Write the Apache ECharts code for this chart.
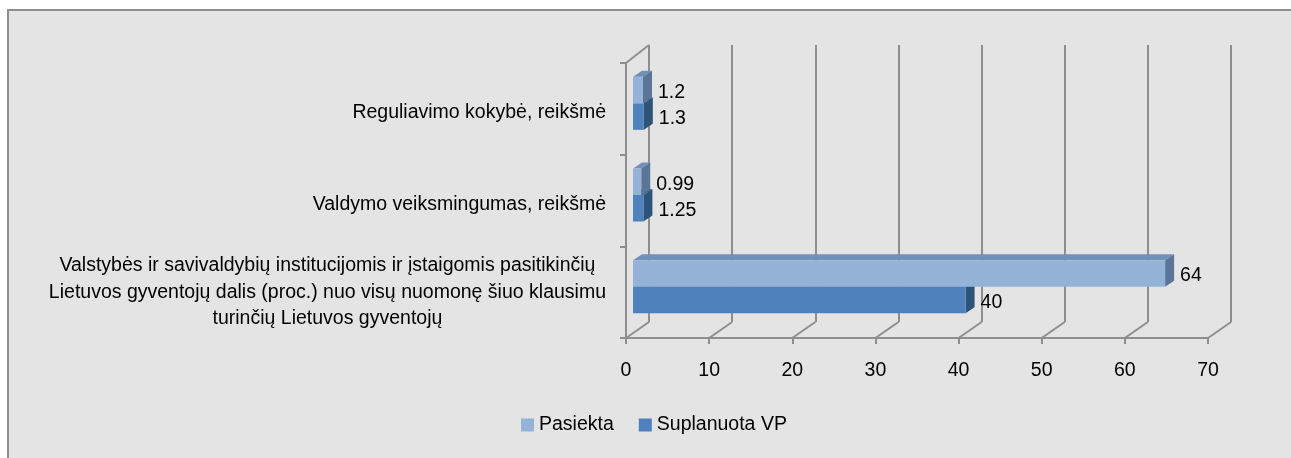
<!DOCTYPE html>
<html>
<head>
<meta charset="utf-8">
<title>Pasiekta ir suplanuota VP</title>
<script src="https://cdn.jsdelivr.net/npm/echarts@6/dist/echarts.min.js"></script>
<style>
  html, body { margin: 0; padding: 0; background: #fff; }
  #box {
    position: absolute; left: 7px; top: 9px; width: 1284px; height: 449px;
    background: #e4e4e4; border-top: 2px solid #8e8e8e; border-left: 2px solid #8e8e8e;
    box-sizing: border-box;
  }
  #chart { position: absolute; left: 0; top: 0; width: 1291px; height: 458px; }
</style>
</head>
<body>
<div id="box"></div>
<div id="chart"></div>
<script>
// data
const categories = [
  'Reguliavimo kokybė, reikšmė',
  'Valdymo veiksmingumas, reikšmė',
  'Valstybės ir savivaldybių institucijomis ir įstaigomis pasitikinčių\nLietuvos gyventojų dalis (proc.) nuo visų nuomonę šiuo klausimu\nturinčių Lietuvos gyventojų'
]
const pasiekta = [1.2, 0.99, 64]
const suplanuota = [1.3, 1.25, 40]
const xTicks = [0, 10, 20, 30, 40, 50, 60, 70]
const seriesNames = ['Pasiekta', 'Suplanuota VP']

const FONT = "'Liberation Sans Narrow', 'Arial Narrow', 'Liberation Sans', sans-serif"
const FS = 19.5
const LINE = '#8e8e8e'

// front plane and back wall of the fake 3d box
const FRONT = { left: 626, top: 63, width: 582, height: 275 }
const BACK = { left: 649, top: 45, width: 582, height: 277 }

// bar depth and shift into the box
const DX = 9, DY = -6
const SX = 7, SY = -5.5

function barRenderer(front, top, side, slot) {
  return function (params, api) {
    const v = api.value(0)
    const i = api.value(1)
    const a = api.coord([0, i])
    const b = api.coord([v, i])
    const h = api.size([0, 1])[1] * 0.289
    const x0 = a[0] + SX
    const x1 = b[0] + SX
    const y0 = a[1] + SY - h + slot * h
    const y1 = y0 + h
    return {
      type: 'group',
      children: [
        { type: 'polygon', shape: { points: [[x0, y0], [x0 + DX, y0 + DY], [x1 + DX, y0 + DY], [x1, y0]] }, style: { fill: top } },
        { type: 'polygon', shape: { points: [[x1, y0], [x1 + DX, y0 + DY], [x1 + DX, y1 + DY], [x1, y1]] }, style: { fill: side } },
        { type: 'rect', shape: { x: x0, y: y0, width: x1 - x0, height: h }, style: { fill: front } },
        { type: 'text', x: x1 + DX + 6, y: (y0 + y1) / 2 + 2.5,
          style: { text: String(v), fill: '#000', fontSize: FS, fontFamily: FONT, verticalAlign: 'middle', align: 'left' } }
      ]
    }
  }
}

function floorRenderer(params, api) {
  const x = api.coord([api.value(0), 0])[0]
  const yb = FRONT.top + FRONT.height
  const yk = BACK.top + BACK.height
  const kids = [
    { type: 'line', shape: { x1: x, y1: yb, x2: x + (BACK.left - FRONT.left), y2: yk }, style: { stroke: LINE, lineWidth: 2 } }
  ]
  if (params.dataIndex === 0) {
    kids.push({ type: 'line', shape: { x1: FRONT.left, y1: FRONT.top, x2: BACK.left, y2: BACK.top }, style: { stroke: LINE, lineWidth: 2 } })
  }
  return { type: 'group', children: kids }
}

const chart = echarts.init(document.getElementById('chart'))

const option = {
  animation: false,
  textStyle: { fontFamily: FONT },
  legend: {
    data: seriesNames,
    left: 521,
    top: 415,
    padding: 0,
    icon: 'rect',
    itemWidth: 13,
    itemHeight: 13,
    itemGap: 25,
    selectedMode: false,
    textStyle: { fontSize: FS, fontFamily: FONT, color: '#000' }
  },
  grid: [
    Object.assign({ containLabel: false, outerBoundsMode: 'none' }, FRONT),
    Object.assign({ containLabel: false, outerBoundsMode: 'none' }, BACK)
  ],
  xAxis: [
    {
      gridIndex: 0, type: 'value',
      min: xTicks[0], max: xTicks[xTicks.length - 1], interval: xTicks[1] - xTicks[0],
      axisLine: { show: true, lineStyle: { color: LINE, width: 2 } },
      axisTick: { show: true, length: 6, lineStyle: { color: LINE, width: 2 } },
      axisLabel: { fontSize: FS, fontFamily: FONT, color: '#000', margin: 23 },
      splitLine: { show: false }
    },
    {
      gridIndex: 1, type: 'value',
      min: xTicks[0], max: xTicks[xTicks.length - 1], interval: xTicks[1] - xTicks[0],
      axisLine: { show: false }, axisTick: { show: false }, axisLabel: { show: false },
      splitLine: { show: true, lineStyle: { color: LINE, width: 2 } }
    }
  ],
  yAxis: [
    {
      gridIndex: 0, type: 'category', data: categories, inverse: true,
      axisLine: { show: true, lineStyle: { color: LINE, width: 2 } },
      axisTick: { show: true, length: 6, lineStyle: { color: LINE, width: 2 } },
      axisLabel: {
        margin: 20,
        formatter: value => {
          const lines = value.split('\n')
          // single-line labels sit a little lower in the original
          const tag = lines.length > 1 ? 'c' : 's'
          return lines.map(line => '{' + tag + '|' + line + '}').join('\n')
        },
        rich: {
          c: { align: 'center', fontSize: FS, lineHeight: 26.5, fontFamily: FONT, color: '#000' },
          s: { fontSize: FS, lineHeight: 26.5, fontFamily: FONT, color: '#000', padding: [8, 0, 0, 0] }
        }
      },
      splitLine: { show: false }
    },
    { gridIndex: 1, type: 'category', data: categories, inverse: true, show: false }
  ],
  series: [
    {
      type: 'custom', name: 'floor', silent: true, clip: false,
      xAxisIndex: 0, yAxisIndex: 0,
      data: xTicks.map(t => [t, 0]),
      renderItem: floorRenderer
    },
    {
      type: 'custom', name: seriesNames[1], clip: false, z: 3,
      xAxisIndex: 0, yAxisIndex: 0,
      itemStyle: { color: '#4f81bd' },
      encode: { x: 0, y: 1 },
      data: suplanuota.map((v, i) => [v, i]),
      renderItem: barRenderer('#4f81bd', '#3f6d9f', '#2e5378', 1)
    },
    {
      type: 'custom', name: seriesNames[0], clip: false, z: 4,
      xAxisIndex: 0, yAxisIndex: 0,
      itemStyle: { color: '#95b3d7' },
      encode: { x: 0, y: 1 },
      data: pasiekta.map((v, i) => [v, i]),
      renderItem: barRenderer('#95b3d7', '#7291b9', '#5a7598', 0)
    }
  ]
}

chart.setOption(option)
</script>
</body>
</html>
